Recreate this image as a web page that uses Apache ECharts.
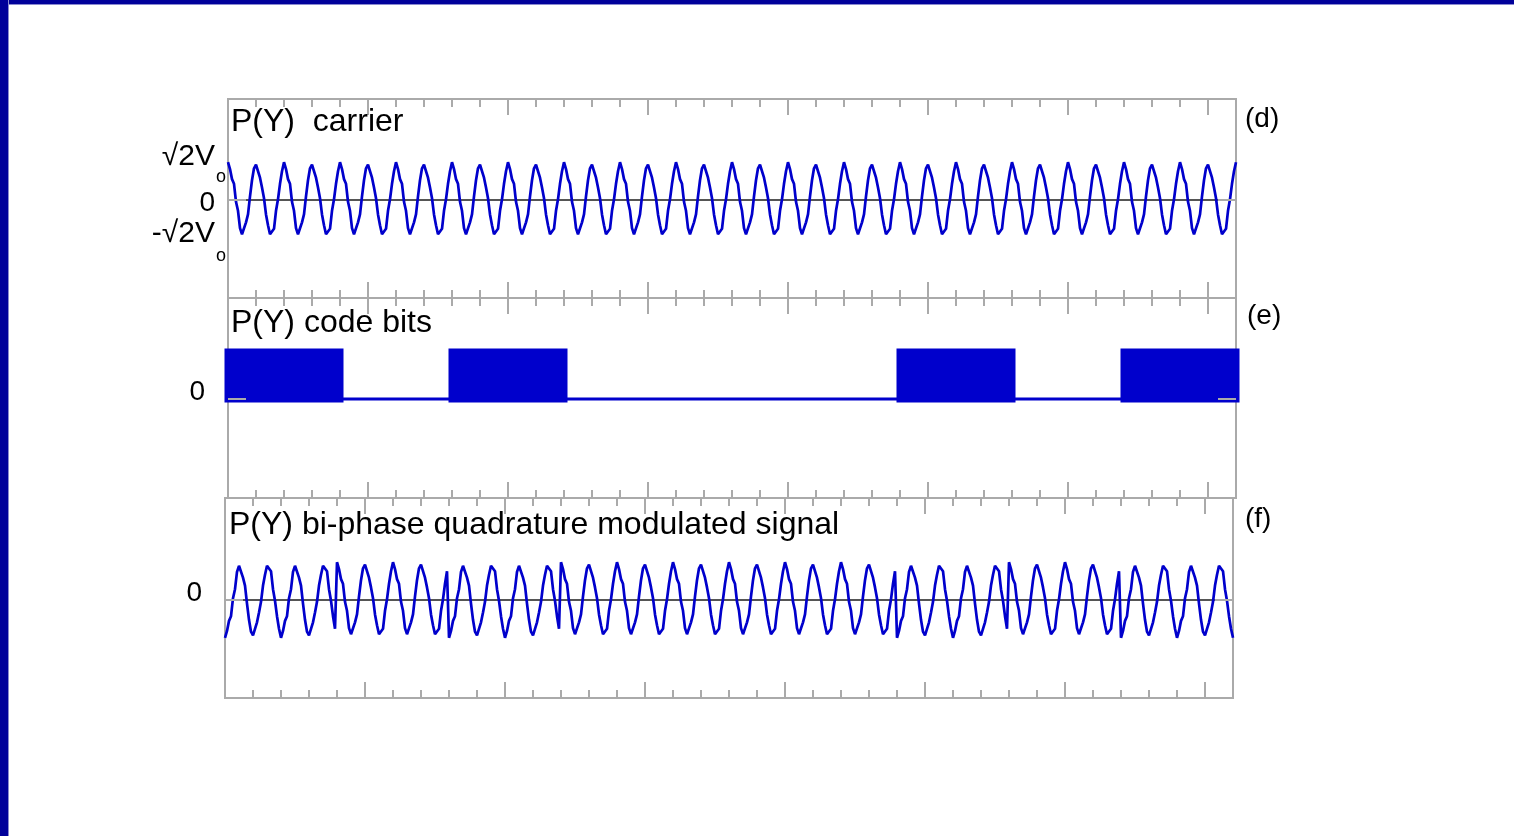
<!DOCTYPE html>
<html><head><meta charset="utf-8">
<script src="https://cdn.jsdelivr.net/npm/echarts@6/dist/echarts.min.js"></script>
<style>
html,body{margin:0;padding:0;background:#fff;overflow:hidden;}
#chart{position:absolute;left:0;top:0;width:1514px;height:836px;}
#st{position:absolute;left:0;top:0;width:1514px;height:4px;background:#00009a;border-bottom:1px solid #8a8ad0;z-index:5}
#sl{position:absolute;left:0;top:0;width:8px;height:836px;background:#00009a;border-right:1px solid #8a8ad0;z-index:6}
</style></head><body>
<div id="chart"></div><div id="st"></div><div id="sl"></div>
<script>
// ---- data ----
const panelTitles = ['P(Y)  carrier', 'P(Y) code bits', 'P(Y) bi-phase quadrature modulated signal'];
const panelTags = ['(d)', '(e)', '(f)'];
const codeBits = [1, 0, 1, 0, 0, 0, 1, 0, 1];
const cyclesPerBit = 4;
const samplesPerCycle = 14;
// two consecutive carrier cycles (sharp peak, then flat peak), in units of sqrt2*Vo
const carrierCyclePair = [
  1.05, 0.86, 0.58, 0.45, -0.05, -0.30, -0.78, -0.95, -0.95, -0.62, -0.40, 0.10, 0.55, 0.88,
  0.98, 0.98, 0.62, 0.35, 0.05, -0.40, -0.70, -0.95, -0.95, -0.80, -0.30, 0.02, 0.45, 0.80
];
const amplitudeTicks = [-1, 1];
const zeroTick = [0];

// ---- build series from the arrays ----
const totalCycles = codeBits.length * cyclesPerBit;
const nSamples = totalCycles * samplesPerCycle;
const carrierData = [];
const modulatedData = [];
for (let k = 0; k <= nSamples; k++) {
  const x = k / samplesPerCycle;
  const v = carrierCyclePair[k % carrierCyclePair.length];
  carrierData.push([x, v]);
  const bi = Math.min(Math.floor(k / (samplesPerCycle * cyclesPerBit)), codeBits.length - 1);
  modulatedData.push([x, codeBits[bi] ? -v : v]);
}
const bitData = codeBits.map((b, i) => [i, b]);

const FONT = '"Liberation Sans", Arial, sans-serif';
const BLUE = '#0000cc';
const GRAY = '#aaaaaa';

const grids = [
  {left: 228, top: 99, width: 1008, height: 199},
  {left: 228, top: 298, width: 1008, height: 200},
  {left: 225, top: 498, width: 1008, height: 200}
];
const yRanges = [[-2.722, 2.806], [-2.11, 2.15], [-2.722, 2.833]];

function xAxisPair(gi) {
  const base = {
    type: 'value', gridIndex: gi, min: 0, max: totalCycles, interval: 5,
    axisLine: {show: false, onZero: false},
    axisLabel: {show: false},
    splitLine: {show: false},
    axisTick: {show: true, inside: true, length: 16, lineStyle: {color: GRAY, width: 2}},
    minorTick: {show: true, splitNumber: 5, length: 8, lineStyle: {color: GRAY, width: 2}}
  };
  return [Object.assign({position: 'bottom'}, base), Object.assign({position: 'top'}, base)];
}

const labelRich = {
  v: {fontSize: 30, fontFamily: FONT, color: '#000', verticalAlign: 'top', padding: [0, 0, 0, 0]},
  s: {fontSize: 18, fontFamily: FONT, color: '#000', verticalAlign: 'top', padding: [27, 0, 0, 1]},
  n: {fontSize: 30, fontFamily: FONT, color: '#000', verticalAlign: 'top', padding: [12, 0, 0, 0]},
  s2: {fontSize: 18, fontFamily: FONT, color: '#000', verticalAlign: 'top', padding: [40, 0, 0, 1]},
  z: {fontSize: 28, fontFamily: FONT, color: '#000', verticalAlign: 'top', padding: [6, 11, 0, 0]},
  z2: {fontSize: 28, fontFamily: FONT, color: '#000', verticalAlign: 'top', padding: [0, 0, 13, 0]}
};

function yAxisPair(gi) {
  const left = {
    type: 'value', gridIndex: gi, position: 'left', min: yRanges[gi][0], max: yRanges[gi][1], z: 10,
    axisLine: {show: false, onZero: false}, splitLine: {show: false},
    axisTick: {show: true, inside: true, length: 18, customValues: zeroTick, lineStyle: {color: GRAY, width: 2}},
    axisLabel: gi === 0 ? {
      show: true, margin: 2, customValues: amplitudeTicks,
      hideOverlap: false, showMinLabel: true, showMaxLabel: true,
      formatter: v => v > 0 ? '{v|√2V}{s|o}' : '{n|-√2V}{s2|o}',
      rich: labelRich
    } : {
      show: true, margin: 23, customValues: zeroTick,
      hideOverlap: false, showMinLabel: true, showMaxLabel: true,
      formatter: () => '{z2|0}', rich: labelRich
    }
  };
  const right = {
    type: 'value', gridIndex: gi, position: 'right', min: yRanges[gi][0], max: yRanges[gi][1], z: 10,
    axisLine: {show: false, onZero: false}, splitLine: {show: false}, axisLabel: {show: false},
    axisTick: {show: true, inside: true, length: 18, customValues: zeroTick, lineStyle: {color: GRAY, width: 2}}
  };
  return [left, right];
}
// separate left axis carrying only the "0" label of panel (d)
const zeroLabelAxisD = {
  type: 'value', gridIndex: 0, position: 'left', offset: 0, min: yRanges[0][0], max: yRanges[0][1], z: 10,
  axisLine: {show: false, onZero: false}, splitLine: {show: false}, axisTick: {show: false},
  axisLabel: {show: true, margin: 2, customValues: zeroTick, formatter: () => '{z|0}', rich: labelRich}
};

const zeroLine = {
  silent: true, symbol: 'none', z: 1, animation: false,
  label: {show: false},
  lineStyle: {color: '#555555', width: 2, type: 'solid'},
  data: [{yAxis: 0}]
};

const titleTops = [106, 307, 509.5];
const titleLefts = [231, 231, 229];
const tagTops = [105.5, 302.5, 505];
const tagLefts = [1245, 1247, 1245];
const titles = [];
panelTitles.forEach((t, i) => titles.push({
  text: t, left: titleLefts[i], top: titleTops[i], padding: 0,
  textStyle: {fontFamily: FONT, fontSize: 32, fontWeight: 'normal', color: '#000'}
}));
panelTags.forEach((t, i) => titles.push({
  text: t, left: tagLefts[i], top: tagTops[i], padding: 0,
  textStyle: {fontFamily: FONT, fontSize: 28, fontWeight: 'normal', color: '#000'}
}));

const option = {
  animation: false,
  backgroundColor: '#ffffff',
  title: titles,
  grid: grids.map(g => Object.assign({show: true, borderColor: GRAY, borderWidth: 2, backgroundColor: 'transparent'}, g)),
  xAxis: [].concat(xAxisPair(0), xAxisPair(1), xAxisPair(2)),
  yAxis: [].concat(yAxisPair(0), yAxisPair(1), yAxisPair(2), [zeroLabelAxisD]),
  series: [
    {
      name: 'carrier', type: 'line', xAxisIndex: 0, yAxisIndex: 0,
      data: carrierData, showSymbol: false, symbol: 'none',
      lineStyle: {color: BLUE, width: 2.7}, markLine: zeroLine
    },
    {
      name: 'code bits', type: 'custom', xAxisIndex: 2, yAxisIndex: 2,
      data: bitData, clip: false,
      renderItem: function (params, api) {
        const i = api.value(0), b = api.value(1);
        const p0 = api.coord([i * cyclesPerBit, b]);
        const p1 = api.coord([(i + 1) * cyclesPerBit, 0]);
        if (b) {
          return {type: 'rect',
            shape: {x: p0[0], y: p0[1], width: p1[0] - p0[0], height: p1[1] - p0[1]},
            style: {fill: BLUE, stroke: BLUE, lineWidth: 7}};
        }
        return {type: 'line',
          shape: {x1: p0[0], y1: p1[1], x2: p1[0], y2: p1[1]},
          style: {stroke: BLUE, lineWidth: 3}};
      }
    },
    {
      name: 'modulated', type: 'line', xAxisIndex: 4, yAxisIndex: 4,
      data: modulatedData, showSymbol: false, symbol: 'none',
      lineStyle: {color: BLUE, width: 2.7}, markLine: zeroLine
    }
  ]
};

const chart = echarts.init(document.getElementById('chart'), null, {renderer: 'canvas'});
chart.setOption(option);
</script>
</body></html>
